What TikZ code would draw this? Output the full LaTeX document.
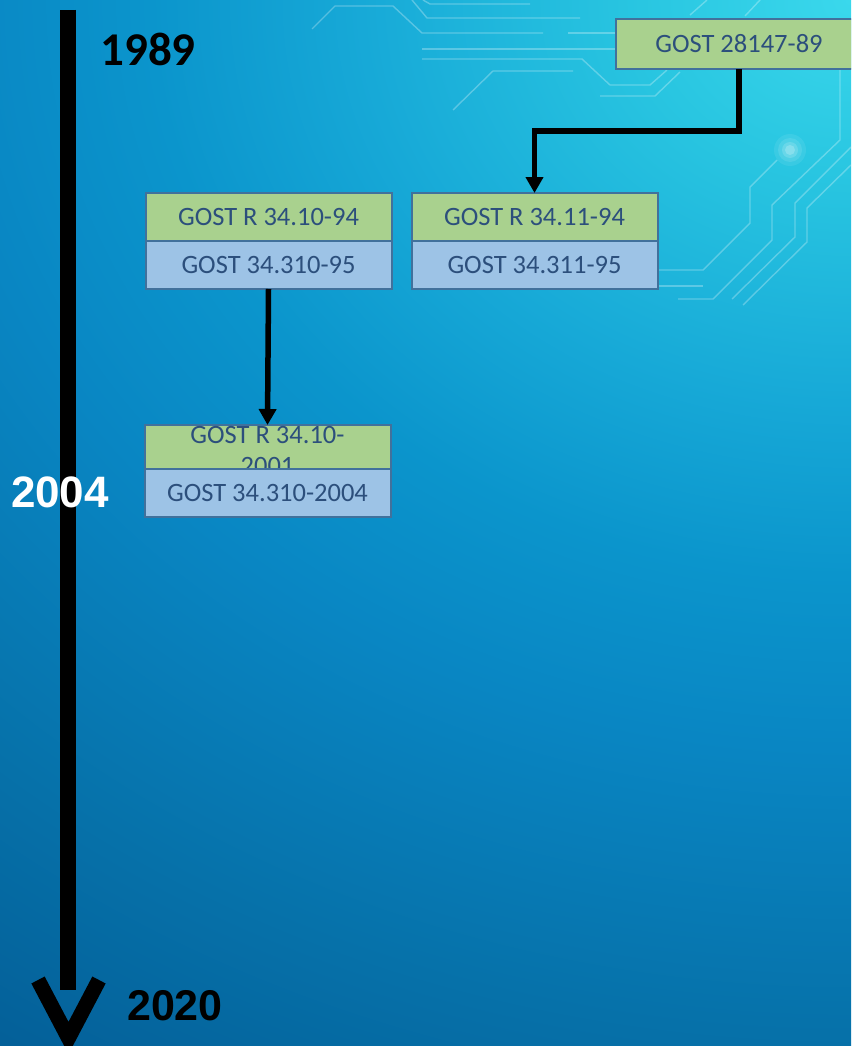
\documentclass[tikz,border=0pt]{standalone}
\usepackage{fontspec}
\setmainfont{Carlito}
\newfontfamily\yearfont{Liberation Sans}
\usetikzlibrary{arrows.meta,calc,positioning}

\definecolor{gostgreen}{HTML}{A9D18E}
\definecolor{gostblue}{HTML}{9DC3E6}
\definecolor{gostedge}{HTML}{41719C}
\definecolor{gosttext}{HTML}{2C4F7C}
\definecolor{bgA}{HTML}{3AD8EC}
\definecolor{bgB}{HTML}{29C6E1}
\definecolor{bgC}{HTML}{17A9D7}
\definecolor{bgD}{HTML}{0B95CC}
\definecolor{bgE}{HTML}{0986C3}
\definecolor{bgF}{HTML}{0671A9}
\definecolor{bgG}{HTML}{045F98}

\pgfdeclareradialshading{backdrop}{\pgfpoint{0bp}{0bp}}{color(0bp)=(bgA); color(2.88bp)=(bgB); color(6.73bp)=(bgC); color(9.62bp)=(bgD); color(12.5bp)=(bgE); color(17.3bp)=(bgF); color(21.15bp)=(bgG); color(50bp)=(bgG)}

\begin{document}
\begin{tikzpicture}[x=1pt, y=-1pt,
    stdbox/.style={draw=gostedge, line width=2pt, outer sep=0pt, inner sep=0pt,
        minimum width=246pt, minimum height=48pt, text=gosttext,
        font=\fontsize{26.5}{31}\selectfont},
    gbox/.style={stdbox, fill=gostgreen},
    bbox/.style={stdbox, fill=gostblue},
    link/.style={line width=5.5pt, line join=miter, -{Triangle[length=16pt, width=17pt]}},
    year/.style={inner sep=0pt, font=\bfseries\fontsize{47}{50}\selectfont},
    pcbline/.style={draw=white, opacity=0.28, line width=1.4pt}]
    \useasboundingbox (0,0) rectangle (851,1046);
    \clip (0,0) rectangle (851,1046);
    % Fond
    \fill[bgG] (0,0) rectangle (851,1046);
    \shade[shading=backdrop] (851,0) ellipse [x radius=1820, y radius=1495];
    \draw[pcbline] (312,29) -- (335,6) -- (393,6) -- (422,33) -- (543,33);
    \draw[pcbline] (412,0) -- (427,18) -- (580,18);
    \draw[pcbline] (423,0) -- (430,4) -- (530,4);
    \draw[pcbline] (568,33) -- (615,33);
    \draw[pcbline] (422,49) -- (615,49);
    \draw[pcbline] (422,59) -- (582,59) -- (610,85) -- (650,85) -- (667,70);
    \draw[pcbline] (453,110) -- (493,71) -- (573,71);
    \draw[pcbline] (600,96) -- (655,96) -- (680,72);
    \draw[pcbline] (690,15) -- (707,0);
    \draw[pcbline] (745,16) -- (760,0);
    \draw[pcbline] (678,299) -- (713,299) -- (772,240) -- (772,205) -- (840,140) -- (840,60);
    \draw[pcbline] (732,299) -- (795,237) -- (795,203) -- (851,147);
    \draw[pcbline] (743,305) -- (807,242) -- (807,208) -- (851,165);
    \draw[pcbline] (658,270) -- (703,270) -- (750,223) -- (750,187) -- (777,160);
    \draw[pcbline] (658,286) -- (703,286);
    \foreach \r/\o in {16/0.08, 12/0.1, 8/0.15, 5/0.2}
        \fill[white, opacity=\o] (790,150) circle (\r);
    % Axe du temps
    \coordinate (ttop) at (68,10);
    \coordinate (tbot) at (68,990);
    \coordinate (ttip) at (68.5,1038);
    \draw[line width=16pt] (ttop) -- (tbot);
    \draw[line width=15pt, line join=miter] ($(ttip)+(-30.5,-58)$) -- (ttip) -- ($(ttip)+(30.5,-58)$);
    \node[year] (y1989) at (148,49) {1989};
    \node[year, text=white, font=\yearfont\bfseries\fontsize{44}{48}\selectfont] (y2004) at (60,492) {2004};
    \node[year, font=\yearfont\bfseries\fontsize{43}{48}\selectfont] (y2020) at (175,1006) {2020};
    % Normes
    \node[gbox, minimum height=50pt] (g89) at (739,44) {GOST 28147-89};
    \node[gbox] (r1194) at (534.5,217) {GOST R 34.11-94};
    \node[bbox, below=0pt of r1194] (b1194) {GOST 34.311-95};
    \node[gbox, left=20pt of r1194] (r1094) {GOST R 34.10-94};
    \node[bbox, below=0pt of r1094] (b1094) {GOST 34.310-95};
    \node[gbox, minimum height=44pt] (r2001) at (267.5,447) {};
    \node[text=gosttext, font=\fontsize{26.5}{31}\selectfont, align=center, anchor=north, inner sep=1.5pt]
        (t2001) at (r2001.north) {GOST R 34.10-\\2001};
    \node[bbox, below=0pt of r2001] (b2001) {GOST 34.310-2004};
    % Fl\`eches
    \draw[link] (g89.south) |- ($(g89.south)!.5!(r1194.north)$) -| (r1194.north);
    \draw[link] (b1094.south) -- (r2001.north);
\end{tikzpicture}
\end{document}
